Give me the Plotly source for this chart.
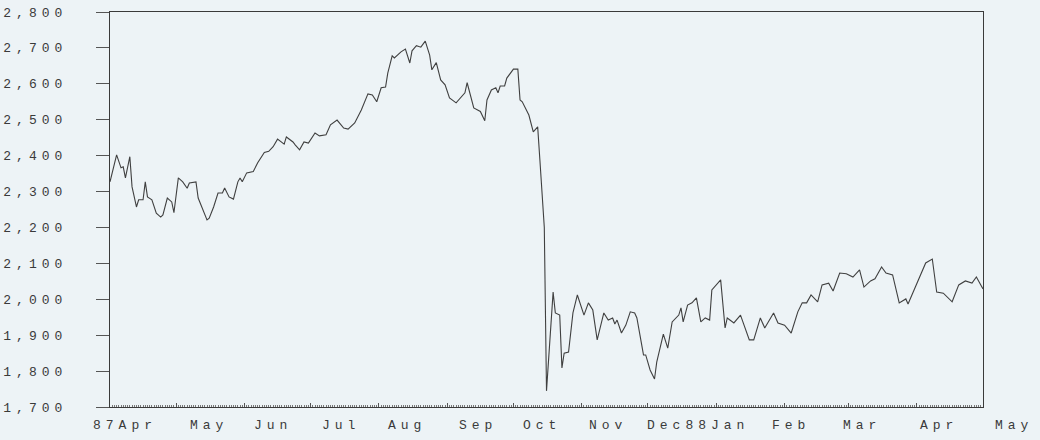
import plotly.graph_objects as go
import pandas as pd

# ---- data (daily index level) ----
dates = [
    "1987-04-01", "1987-04-04", "1987-04-06", "1987-04-07", "1987-04-08", "1987-04-10",
    "1987-04-11", "1987-04-13", "1987-04-14", "1987-04-16", "1987-04-17", "1987-04-18",
    "1987-04-20", "1987-04-22", "1987-04-24", "1987-04-25", "1987-04-27", "1987-04-29",
    "1987-04-30",
    "1987-05-02", "1987-05-04", "1987-05-06", "1987-05-07", "1987-05-10", "1987-05-11",
    "1987-05-13", "1987-05-15", "1987-05-16", "1987-05-18", "1987-05-20", "1987-05-22",
    "1987-05-23", "1987-05-25", "1987-05-27", "1987-05-29", "1987-05-30", "1987-05-31",
    "1987-06-02", "1987-06-05", "1987-06-07", "1987-06-10", "1987-06-12", "1987-06-14",
    "1987-06-16", "1987-06-18", "1987-06-19", "1987-06-20", "1987-06-23", "1987-06-24",
    "1987-06-26", "1987-06-28", "1987-06-30",
    "1987-07-03", "1987-07-05", "1987-07-08", "1987-07-10", "1987-07-13", "1987-07-16",
    "1987-07-18", "1987-07-21", "1987-07-24", "1987-07-27", "1987-07-29", "1987-07-31",
    "1987-08-02", "1987-08-04", "1987-08-05", "1987-08-07", "1987-08-08", "1987-08-11",
    "1987-08-13", "1987-08-15", "1987-08-16", "1987-08-18", "1987-08-20", "1987-08-22",
    "1987-08-24", "1987-08-25", "1987-08-27", "1987-08-29", "1987-08-31",
    "1987-09-02", "1987-09-05", "1987-09-08", "1987-09-09", "1987-09-10", "1987-09-13",
    "1987-09-16", "1987-09-18", "1987-09-19", "1987-09-21", "1987-09-23", "1987-09-24",
    "1987-09-25", "1987-09-27", "1987-09-28",
    "1987-10-01", "1987-10-03", "1987-10-04", "1987-10-05", "1987-10-08", "1987-10-10",
    "1987-10-12", "1987-10-13", "1987-10-14", "1987-10-15", "1987-10-16", "1987-10-19",
    "1987-10-20", "1987-10-22", "1987-10-23", "1987-10-24", "1987-10-26", "1987-10-28",
    "1987-10-30",
    "1987-11-02", "1987-11-04", "1987-11-06", "1987-11-08", "1987-11-11", "1987-11-13",
    "1987-11-15", "1987-11-16", "1987-11-17", "1987-11-19", "1987-11-21", "1987-11-23",
    "1987-11-25", "1987-11-26", "1987-11-29", "1987-11-30",
    "1987-12-02", "1987-12-04", "1987-12-05", "1987-12-08", "1987-12-10", "1987-12-12",
    "1987-12-15", "1987-12-16", "1987-12-17", "1987-12-19", "1987-12-21", "1987-12-23",
    "1987-12-25", "1987-12-27", "1987-12-29", "1987-12-30",
    "1988-01-01", "1988-01-03", "1988-01-05", "1988-01-06", "1988-01-09", "1988-01-12",
    "1988-01-16", "1988-01-18", "1988-01-21", "1988-01-23", "1988-01-27", "1988-01-29",
    "1988-02-01", "1988-02-04", "1988-02-07", "1988-02-09", "1988-02-11", "1988-02-13",
    "1988-02-16", "1988-02-18", "1988-02-21", "1988-02-23", "1988-02-26", "1988-02-29",
    "1988-03-03", "1988-03-06", "1988-03-08", "1988-03-11", "1988-03-13", "1988-03-16",
    "1988-03-18", "1988-03-21", "1988-03-24", "1988-03-27", "1988-03-28",
    "1988-04-01", "1988-04-05", "1988-04-08", "1988-04-10", "1988-04-13", "1988-04-17",
    "1988-04-20", "1988-04-23", "1988-04-26", "1988-04-28", "1988-04-30", "1988-05-01",
]

index_level = [
    2327, 2402, 2366, 2369, 2338, 2397,
    2313, 2257, 2277, 2277, 2327, 2285,
    2277, 2240, 2229, 2235, 2282, 2271,
    2241,
    2338, 2327, 2309, 2324, 2327, 2282,
    2254, 2221, 2226, 2257, 2296, 2296,
    2310, 2285, 2279, 2327, 2338, 2327,
    2352, 2356, 2380, 2409, 2412, 2425,
    2446, 2438, 2432, 2452, 2438, 2430,
    2416, 2438, 2435,
    2463, 2455, 2458, 2486, 2499, 2477,
    2474, 2491, 2527, 2572, 2569, 2550,
    2589, 2591, 2630, 2678, 2672, 2689,
    2697, 2658, 2692, 2706, 2702, 2719,
    2680, 2639, 2659, 2611, 2597,
    2561, 2547, 2569, 2575, 2603, 2533,
    2523, 2497, 2555, 2583, 2589, 2575,
    2594, 2594, 2616,
    2641, 2641, 2555, 2550, 2513, 2466,
    2480, 2388, 2290, 2200, 1745, 2020,
    1962, 1956, 1809, 1850, 1853, 1962,
    2012,
    1956, 1990, 1970, 1887, 1962, 1942,
    1948, 1931, 1942, 1906, 1928, 1965,
    1962, 1948, 1845, 1845,
    1803, 1778, 1825, 1903, 1864, 1937,
    1956, 1976, 1937, 1984, 1990, 2004,
    1937, 1948, 1942, 2026,
    2040, 2054, 1920, 1948, 1934, 1956,
    1887, 1887, 1948, 1920, 1962, 1934,
    1928, 1906, 1965, 1990, 1990, 2012,
    1993, 2040, 2045, 2023, 2073, 2071,
    2062, 2082, 2034, 2051, 2057, 2090,
    2073, 2068, 1990, 2001, 1987,
    2045, 2101, 2112, 2020, 2017, 1993,
    2040, 2051, 2045, 2062, 2040, 2029,
]

y_ticks = [1700, 1800, 1900, 2000, 2100, 2200, 2300, 2400, 2500, 2600, 2700, 2800]
y_tick_labels = ["1,700", "1,800", "1,900", "2,000", "2,100", "2,200",
                 "2,300", "2,400", "2,500", "2,600", "2,700", "2,800"]

x_label_dates = ["1987-04-07", "1987-05-15", "1987-06-13", "1987-07-14", "1987-08-13",
                 "1987-09-14", "1987-10-13", "1987-11-12", "1987-12-23", "1988-02-03",
                 "1988-03-06", "1988-04-10", "1988-05-14"]
x_label_text = ["87Apr", "May", "Jun", "Jul", "Aug", "Sep", "Oct", "Nov",
                "Dec88Jan", "Feb", "Mar", "Apr", "May"]

x_range = ["1987-04-01", "1988-05-01"]

# ---- styling ----
BG = "#edf3f6"
INK = "#3a3a3a"
FONT = "Liberation Mono, DejaVu Sans Mono, monospace"
SPACED = '<span style="letter-spacing:5px">{}</span>'

fig = go.Figure()
fig.add_trace(go.Scatter(
    x=dates, y=index_level, mode="lines",
    line=dict(color="#404040", width=1.1),
    hoverinfo="skip", showlegend=False,
))

# month labels sit between/after ticks (last one runs past the axis end),
# so place them as paper-referenced annotations mapped from their dates
t0, t1 = pd.Timestamp(x_range[0]), pd.Timestamp(x_range[1])
for d, t in zip(x_label_dates, x_label_text):
    frac = (pd.Timestamp(d) - t0) / (t1 - t0)
    fig.add_annotation(
        x=frac, y=-0.048, xref="paper", yref="paper", text=SPACED.format(t),
        showarrow=False, xanchor="center", yanchor="middle", xshift=2,
        font=dict(family=FONT, size=13, color=INK),
    )

fig.update_layout(
    width=1040, height=440,
    margin=dict(l=110, r=57, t=12, b=33, autoexpand=False),
    paper_bgcolor=BG, plot_bgcolor=BG,
    xaxis=dict(
        type="date", range=x_range,
        showgrid=False, zeroline=False,
        showline=True, linecolor=INK, linewidth=1.2, mirror=True,
        ticks="inside", ticklen=4, tickwidth=1, tickcolor="#555555",
        tick0="1987-04-01", dtick="M1", showticklabels=False,
        minor=dict(ticks="inside", ticklen=2, tickwidth=1, tickcolor="#777777",
                   tick0="1987-04-01", dtick=86400000.0, showgrid=False),
        automargin=False,
    ),
    yaxis=dict(
        range=[1700, 2800], showgrid=False, zeroline=False,
        showline=True, linecolor=INK, linewidth=1.2, mirror=True,
        ticks="outside", ticklen=13, tickwidth=1, tickcolor="#555555",
        tickvals=y_ticks, ticktext=[SPACED.format(s) for s in y_tick_labels],
        tickfont=dict(family=FONT, size=13, color=INK),
        ticklabelstandoff=26,
        automargin=False,
    ),
)

fig.write_html("out.html")
